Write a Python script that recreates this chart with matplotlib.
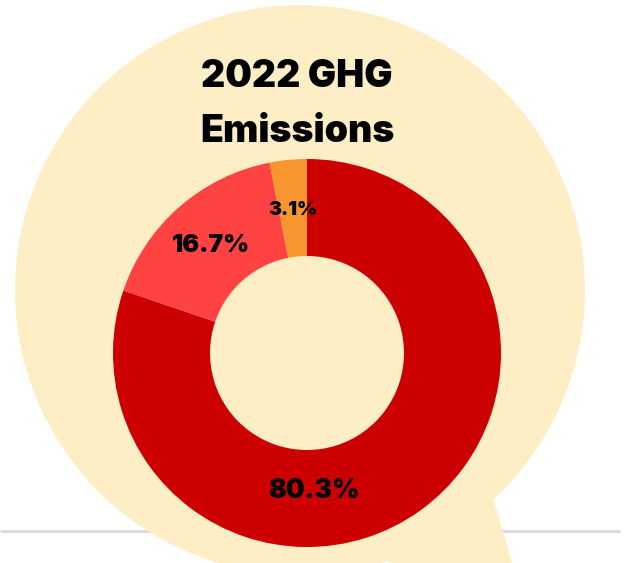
import numpy as np
import matplotlib
matplotlib.use("Agg")
import matplotlib.pyplot as plt
from matplotlib.patches import Circle, Polygon

# ── Data ──────────────────────────────────────────────────────────────────────
shares = [80.3, 16.7, 3.1]
labels = ["80.3%", "16.7%", "3.1%"]
colors = ["#CC0000", "#FF4242", "#F7962F"]
title_lines = ["2022 GHG", "Emissions"]

CREAM = "#FDEEC6"
FONT = "Inter"
WEIGHT = "black"

W, H = 628, 563
fig = plt.figure(figsize=(W / 100, H / 100), dpi=100)
fig.patch.set_facecolor("white")
ax = fig.add_axes([0, 0, 1, 1])
ax.set_aspect("equal")

# baseline rule behind the bubble
ax.plot([0, 620], [H - 530.5, H - 530.5], color="#D9D9D9", lw=2, zorder=0,
        solid_capstyle="butt")

# speech bubble: circle + tail
ax.add_patch(Circle((300, H - 290), 285, facecolor=CREAM, edgecolor="none", zorder=1))
ax.add_patch(Polygon([(340, H - 514), (491, H - 491), (515, -10), (399, -10)],
                     closed=True, facecolor=CREAM, edgecolor="none", zorder=1))

# donut
cx, cy, r = 307, H - 353, 194
wedges, _ = ax.pie(shares, colors=colors, startangle=90, counterclock=False,
                   radius=r, center=(cx, cy), frame=True,
                   wedgeprops=dict(width=r * 0.5, edgecolor="none", zorder=2))
ax.set_xlim(0, W)
ax.set_ylim(0, H)
ax.axis("off")

sizes = [19, 18, 14]
for i, (w, lab) in enumerate(zip(wedges, labels)):
    mid = np.deg2rad((w.theta1 + w.theta2) / 2)
    rr = 0.75
    if shares[i] == max(shares):
        mid = np.deg2rad(-87)
        rr = 0.70
    ax.text(cx + rr * r * np.cos(mid), cy + rr * r * np.sin(mid) - 2, lab,
            ha="center", va="center", fontsize=sizes[i], fontweight=WEIGHT,
            family=FONT, color="black", zorder=3)

# title
ax.text(297, H - 87, title_lines[0], ha="center", va="baseline",
        fontsize=27, fontweight=WEIGHT, family=FONT, zorder=3)
ax.text(297, H - 142, title_lines[1], ha="center", va="baseline",
        fontsize=27, fontweight=WEIGHT, family=FONT, zorder=3)

fig.savefig("out.png", dpi=100, facecolor="white")
